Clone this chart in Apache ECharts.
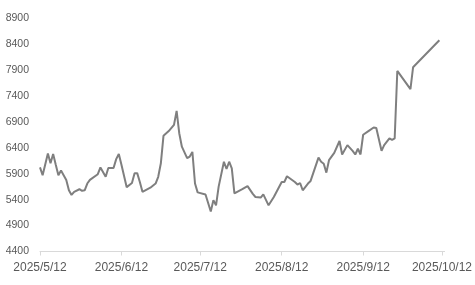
<!DOCTYPE html>
<html>
<head>
<meta charset="utf-8">
<script src="https://cdn.jsdelivr.net/npm/echarts@6/dist/echarts.min.js"></script>
<style>html,body{margin:0;padding:0;background:#fff}#c{width:475px;height:285px}</style>
</head>
<body>
<div id="c"></div>
<script>
const dates = ['2025-05-12','2025-05-13','2025-05-15','2025-05-16','2025-05-17','2025-05-18','2025-05-19','2025-05-20','2025-05-22','2025-05-23','2025-05-24','2025-05-25','2025-05-27','2025-05-28','2025-05-29','2025-05-30','2025-05-31',
'2025-06-03','2025-06-04','2025-06-06','2025-06-07','2025-06-09','2025-06-10','2025-06-11','2025-06-12','2025-06-14','2025-06-16','2025-06-17','2025-06-18','2025-06-19','2025-06-20','2025-06-23','2025-06-25','2025-06-26','2025-06-27','2025-06-28','2025-06-30',
'2025-07-02','2025-07-03','2025-07-04','2025-07-05','2025-07-07','2025-07-08','2025-07-09','2025-07-10','2025-07-11','2025-07-14','2025-07-16','2025-07-17','2025-07-18','2025-07-19','2025-07-21','2025-07-22','2025-07-23','2025-07-24','2025-07-25','2025-07-28','2025-07-30',
'2025-08-01','2025-08-02','2025-08-04','2025-08-05','2025-08-07','2025-08-09','2025-08-12','2025-08-13','2025-08-14','2025-08-17','2025-08-18','2025-08-19','2025-08-20','2025-08-22','2025-08-23','2025-08-26','2025-08-27','2025-08-28','2025-08-29','2025-08-30',
'2025-09-01','2025-09-03','2025-09-04','2025-09-06','2025-09-08','2025-09-09','2025-09-10','2025-09-11','2025-09-12','2025-09-14','2025-09-16','2025-09-17','2025-09-19','2025-09-20','2025-09-22','2025-09-23','2025-09-24','2025-09-25','2025-09-30',
'2025-10-01','2025-10-11'];
const values = [6020,5870,6290,6100,6280,6070,5870,5960,5780,5580,5490,5550,5600,5570,5580,5710,5780,
5890,6020,5840,6010,6010,6180,6280,6070,5640,5720,5910,5910,5740,5550,5630,5710,5840,6100,6630,6720,
6840,7110,6680,6420,6200,6230,6320,5710,5540,5500,5170,5390,5290,5650,6130,5990,6130,6000,5520,5600,5660,
5510,5450,5440,5500,5290,5450,5740,5740,5850,5740,5690,5720,5580,5710,5760,6210,6130,6090,5920,6160,
6300,6530,6270,6450,6340,6270,6380,6270,6650,6720,6790,6780,6340,6450,6580,6550,6580,7880,7530,
7950,8470];
const xTickDates = ['2025-05-12','2025-06-12','2025-07-12','2025-08-12','2025-09-12','2025-10-12'];
const yTicks = [4400,4900,5400,5900,6400,6900,7400,7900,8400,8900];
const xMin = '2025-05-12', xMax = '2025-10-13';

function ts(s){ const p = s.split('-').map(Number); return new Date(p[0], p[1]-1, p[2]).getTime(); }
const seriesData = dates.map((d,i)=>[ts(d), values[i]]);
const xTicks = xTickDates.map(ts);

const chart = echarts.init(document.getElementById('c'), null, {renderer:'canvas'});
chart.setOption({
  animation:false,
  backgroundColor:'#ffffff',
  grid:{left:40, right:30, top:18, bottom:33.5, containLabel:false},
  xAxis:{
    type:'value', min:ts(xMin), max:ts(xMax), scale:true,
    axisLine:{show:true, lineStyle:{color:'#d9d9d9', width:1}},
    axisTick:{show:true, length:4, lineStyle:{color:'#d9d9d9'}, customValues:xTicks},
    axisLabel:{customValues:xTicks, margin:10, color:'#595959', fontFamily:'Liberation Sans', fontSize:12,
      formatter:function(v){ const d=new Date(v); return d.getFullYear()+'/'+(d.getMonth()+1)+'/'+d.getDate(); }},
    splitLine:{show:false}
  },
  yAxis:{
    type:'value', min:4400, max:8900,
    axisLine:{show:false}, axisTick:{show:false}, splitLine:{show:false},
    axisLabel:{customValues:yTicks, margin:11, color:'#595959', fontFamily:'Liberation Sans', fontSize:10.5,
      formatter:function(v){ return String(v); }}
  },
  series:[{
    type:'line', data:seriesData, showSymbol:false, symbol:'none',
    lineStyle:{color:'#7f7f7f', width:2}, itemStyle:{color:'#7f7f7f'}
  }]
});
</script>
</body>
</html>
